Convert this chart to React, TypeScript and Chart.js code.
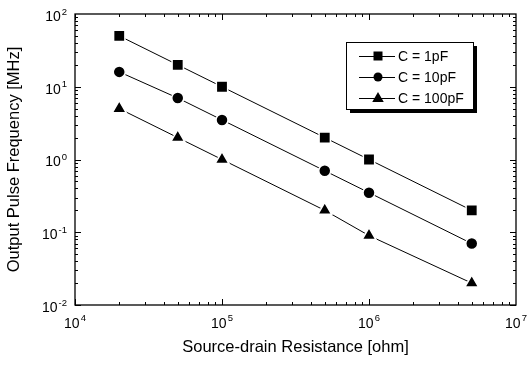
import React, { useEffect, useRef } from 'react';
import { Chart, registerables } from 'chart.js';

Chart.register(...registerables);

const resistance = [2e4, 5e4, 1e5, 5e5, 1e6, 5e6];
const freq1pF = [50, 20, 10, 2, 1, 0.2];
const freq10pF = [16, 7, 3.5, 0.7, 0.35, 0.07];
const freq100pF = [5, 2, 1, 0.2, 0.09, 0.02];
const seriesLabels = ['C = 1pF', 'C = 10pF', 'C = 100pF'];
const markerStyles = ['rect', 'circle', 'triangle'];
const markerRadii = [8, 6, 8];
const xTickExponents = [4, 5, 6, 7];
const yTickExponents = [-2, -1, 0, 1, 2];
const xTitle = 'Source-drain Resistance [ohm]';
const yTitle = 'Output Pulse Frequency [MHz]';

const FONT = '"Liberation Sans", Arial, Helvetica, sans-serif';

function toPoints(ys: number[]) {
  return resistance.map((x, i) => ({ x, y: ys[i] }));
}

function drawMarker(ctx: CanvasRenderingContext2D, style: string, x: number, y: number, s: number) {
  ctx.beginPath();
  if (style === 'rect') {
    ctx.rect(x - s, y - s, 2 * s, 2 * s);
  } else if (style === 'circle') {
    ctx.arc(x, y, s, 0, Math.PI * 2);
  } else {
    const h = s * 1.8;
    ctx.moveTo(x, y - h * 0.6);
    ctx.lineTo(x + s * 1.05, y + h * 0.4);
    ctx.lineTo(x - s * 1.05, y + h * 0.4);
    ctx.closePath();
  }
  ctx.fill();
}

const framePlugin = {
  id: 'framePlugin',
  afterDraw(chart: any) {
    const ctx: CanvasRenderingContext2D = chart.ctx;
    const { left, right, top, bottom } = chart.chartArea;
    const xs = chart.scales.x;
    const ys = chart.scales.y;
    ctx.save();
    ctx.strokeStyle = '#000';
    ctx.fillStyle = '#000';
    ctx.lineWidth = 1.3;
    ctx.strokeRect(left, top, right - left, bottom - top);

    ctx.lineWidth = 1;
    for (let e = xTickExponents[0]; e < xTickExponents[xTickExponents.length - 1]; e++) {
      for (let m = 1; m <= 9; m++) {
        const v = m * Math.pow(10, e);
        const px = Math.round(xs.getPixelForValue(v)) + 0.5;
        const len = m === 1 ? 6 : 3;
        ctx.beginPath();
        ctx.moveTo(px, bottom);
        ctx.lineTo(px, bottom - len);
        ctx.moveTo(px, top);
        ctx.lineTo(px, top + len);
        ctx.stroke();
      }
    }
    for (let e = yTickExponents[0]; e < yTickExponents[yTickExponents.length - 1]; e++) {
      for (let m = 1; m <= 9; m++) {
        const v = m * Math.pow(10, e);
        const py = Math.round(ys.getPixelForValue(v)) + 0.5;
        const len = m === 1 ? 6 : 3;
        ctx.beginPath();
        ctx.moveTo(left, py);
        ctx.lineTo(left + len, py);
        ctx.moveTo(right, py);
        ctx.lineTo(right - len, py);
        ctx.stroke();
      }
    }

    const baseFont = '14px ' + FONT;
    const expFont = '9.5px ' + FONT;
    ctx.textBaseline = 'middle';
    xTickExponents.forEach((e) => {
      const px = xs.getPixelForValue(Math.pow(10, e));
      ctx.font = baseFont;
      const wb = ctx.measureText('10').width;
      ctx.font = expFont;
      const we = ctx.measureText(String(e)).width;
      const start = px - (wb + we + 1) / 2;
      ctx.font = baseFont;
      ctx.textAlign = 'left';
      ctx.fillText('10', start, bottom + 19);
      ctx.font = expFont;
      ctx.fillText(String(e), start + wb + 1, bottom + 13);
    });
    yTickExponents.forEach((e) => {
      const py = ys.getPixelForValue(Math.pow(10, e));
      ctx.font = expFont;
      const es = e < 0 ? '-' + Math.abs(e) : String(e);
      const we = ctx.measureText(es).width;
      const endX = left - 8;
      ctx.textAlign = 'left';
      ctx.fillText(es, endX - we, py - 2);
      ctx.font = baseFont;
      ctx.textAlign = 'right';
      ctx.fillText('10', endX - we - 1, py + 3);
    });

    const lx = right - 170;
    const ly = top + 28;
    const lw = 127;
    const lh = 67;
    ctx.fillStyle = '#000';
    ctx.fillRect(lx + 4, ly + 4, lw, lh);
    ctx.fillStyle = '#fff';
    ctx.fillRect(lx, ly, lw, lh);
    ctx.strokeStyle = '#000';
    ctx.lineWidth = 1;
    ctx.strokeRect(lx + 0.5, ly + 0.5, lw, lh);
    ctx.font = '14px ' + FONT;
    ctx.textAlign = 'left';
    ctx.textBaseline = 'middle';
    const sizes = [4.5, 4.5, 5.5];
    seriesLabels.forEach((lab, i) => {
      const ry = ly + 14 + i * 21;
      ctx.strokeStyle = '#000';
      ctx.beginPath();
      ctx.moveTo(lx + 13, ry + 0.5);
      ctx.lineTo(lx + 49, ry + 0.5);
      ctx.stroke();
      ctx.fillStyle = '#000';
      drawMarker(ctx, markerStyles[i], lx + 32, ry, sizes[i]);
      ctx.fillText(lab, lx + 52, ry + 1);
    });
    ctx.restore();
  },
};

export default function App() {
  const ref = useRef<HTMLCanvasElement | null>(null);
  useEffect(() => {
    document.body.style.margin = '0';
    const series = [freq1pF, freq10pF, freq100pF];
    const chart = new Chart(ref.current as HTMLCanvasElement, {
      type: 'line',
      data: {
        datasets: series.map((s, i) => ({
          label: seriesLabels[i],
          data: toPoints(s),
          borderColor: '#000',
          borderWidth: 1,
          backgroundColor: '#000',
          pointBackgroundColor: '#000',
          pointBorderColor: '#fff',
          pointBorderWidth: 1.5,
          pointStyle: markerStyles[i] as any,
          pointRadius: markerRadii[i],
          pointHoverRadius: markerRadii[i],
          tension: 0,
        })),
      },
      options: {
        animation: false,
        responsive: true,
        maintainAspectRatio: false,
        layout: { padding: { top: 14, right: 11, left: 0, bottom: 0 } },
        plugins: { legend: { display: false }, tooltip: { enabled: false } },
        scales: {
          x: {
            type: 'logarithmic',
            min: 1e4,
            max: 1e7,
            grid: { display: false },
            border: { display: false },
            ticks: { display: false },
            title: {
              display: true,
              text: xTitle,
              color: '#000',
              font: { family: FONT, size: 16.5 },
              padding: { top: 0, bottom: 8 },
            },
            afterFit: (scale: any) => {
              scale.height = 60;
            },
          },
          y: {
            type: 'logarithmic',
            min: 0.01,
            max: 100,
            grid: { display: false },
            border: { display: false },
            ticks: { display: false },
            title: {
              display: true,
              text: yTitle,
              color: '#000',
              font: { family: FONT, size: 16.5 },
              padding: { top: 5, bottom: 0 },
            },
            afterFit: (scale: any) => {
              scale.width = 75;
            },
          },
        },
      },
      plugins: [framePlugin],
    });
    return () => chart.destroy();
  }, []);
  return (
    <div style={{ width: 527, height: 365, position: 'relative', background: '#fff' }}>
      <canvas ref={ref} />
    </div>
  );
}
